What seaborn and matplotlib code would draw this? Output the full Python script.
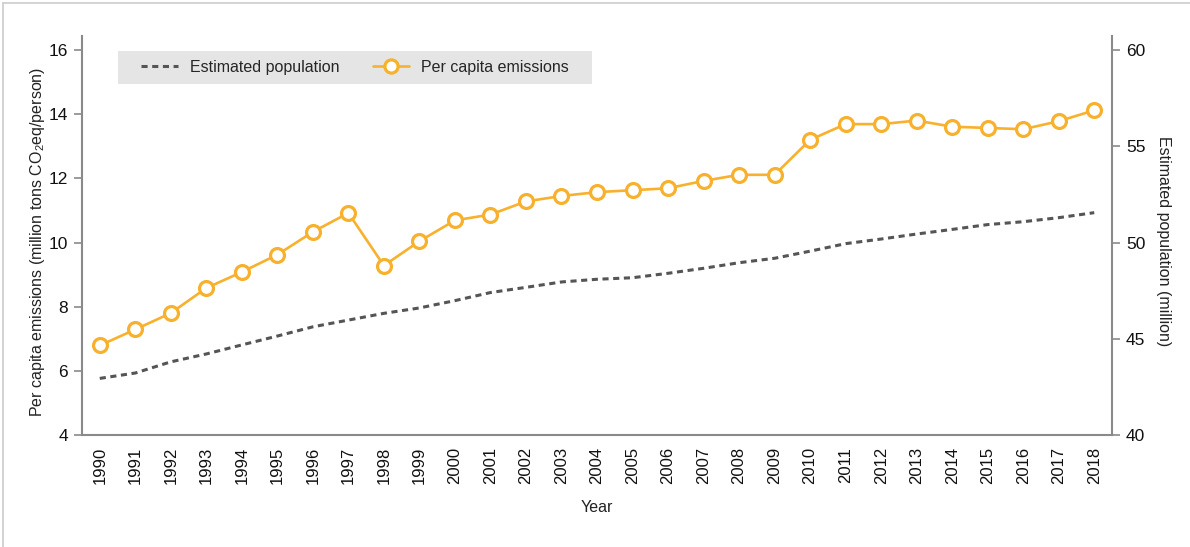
import numpy as np
import pandas as pd
import matplotlib
matplotlib.use("Agg")
import matplotlib.pyplot as plt
from matplotlib.patches import Rectangle
from matplotlib.lines import Line2D
import seaborn as sns

# ---- data ----
years = list(range(1990, 2019))
per_capita = [6.79, 7.29, 7.80, 8.58, 9.08, 9.62, 10.33, 10.92, 9.28, 10.04,
              10.69, 10.87, 11.28, 11.45, 11.57, 11.63, 11.69, 11.92, 12.11, 12.11,
              13.20, 13.69, 13.69, 13.80, 13.61, 13.57, 13.53, 13.78, 14.12]
population = [42.94, 43.22, 43.80, 44.21, 44.68, 45.14, 45.62, 45.97, 46.32, 46.60,
              46.98, 47.40, 47.67, 47.95, 48.09, 48.17, 48.40, 48.66, 48.95, 49.18,
              49.55, 49.94, 50.18, 50.44, 50.68, 50.93, 51.08, 51.29, 51.55]
label_pop = "Estimated population"
label_pc = "Per capita emissions"

df = pd.DataFrame({"idx": np.arange(len(years)), "year": years,
                   "per_capita": per_capita, "population": population})

sns.set_theme(style="white")
plt.rcParams["font.family"] = ["Liberation Sans", "DejaVu Sans"]

W, H = 1190, 547
fig = plt.figure(figsize=(W / 100, H / 100), dpi=100)
ax_l, ax_r, ax_t, ax_b = 82, 1112, 36, 435
ax = fig.add_axes([ax_l / W, 1 - ax_b / H, (ax_r - ax_l) / W, (ax_b - ax_t) / H])
ax2 = ax.twinx()

orange = "#f8b12c"
gray_line = "#555555"
spine_c = "#8a8a8a"

sns.lineplot(data=df, x="idx", y="per_capita", ax=ax, color=orange, linewidth=1.9,
             marker="o", markersize=10, markerfacecolor="white",
             markeredgecolor=orange, markeredgewidth=2.3, label=label_pc, legend=False)
sns.lineplot(data=df, x="idx", y="population", ax=ax2, color=gray_line, linewidth=2.2,
             linestyle=(0, (2, 1.5)), label=label_pop, legend=False)

# axes limits
px_per_unit_l = (ax_b - 50) / 12.0
ax.set_ylim(4, 16 + (50 - ax_t) / px_per_unit_l)
px_per_unit_r = (ax_b - 50) / 20.0
ax2.set_ylim(40, 60 + (50 - ax_t) / px_per_unit_r)
ax.set_xlim(-0.5, len(years) - 0.5)

ax.set_yticks(np.arange(4, 17, 2))
ax2.set_yticks(np.arange(40, 61, 5))

# x ticks: marks at band edges, labels at centres
ax.set_xticks(np.arange(-0.5, len(years), 1.0))
ax.set_xticklabels([])
ax.set_xticks(np.arange(len(years)), minor=True)
ax.set_xticklabels([str(y) for y in years], minor=True, rotation=90)
ax.tick_params(axis="x", which="major", length=7, width=1.2, color=spine_c, direction="out")
ax.tick_params(axis="x", which="minor", length=0, pad=8.5, labelsize=12, labelcolor="#111111")
ax.tick_params(axis="y", which="major", length=6, width=1.2, color=spine_c, direction="out",
               pad=4, labelsize=12.5, labelcolor="#111111", left=True)
ax2.tick_params(axis="y", which="major", length=6, width=1.2, color=spine_c, direction="out",
                pad=4, labelsize=12.5, labelcolor="#111111", right=True)

for a in (ax, ax2):
    for s in a.spines.values():
        s.set_visible(False)
    a.grid(False)
ax.spines["left"].set_visible(True)
ax.spines["bottom"].set_visible(True)
ax2.spines["right"].set_visible(True)
for s in (ax.spines["left"], ax.spines["bottom"], ax2.spines["right"]):
    s.set_color(spine_c)
    s.set_linewidth(1.5)

# labels
ax.set_xlabel("Year", fontsize=11.5, color="#222222", va="center")
ax.xaxis.set_label_coords(0.5, -(508 - ax_b) / (ax_b - ax_t))
ax.set_ylabel("Per capita emissions (million tons CO$\\mathregular{_2}$eq/person)",
              fontsize=11.5, color="#222222", rotation=90, va="center", ha="center")
ax.yaxis.set_label_coords((38 - ax_l) / (ax_r - ax_l), (ax_b - 242) / (ax_b - ax_t))
ax2.set_ylabel("Estimated population (million)", fontsize=11.5, color="#222222",
               rotation=270, va="center", ha="center")
ax2.yaxis.set_label_coords((1163 - ax_l) / (ax_r - ax_l), (ax_b - 241) / (ax_b - ax_t))

# legend box
aw, ah = ax_r - ax_l, ax_b - ax_t
box = Rectangle(((118 - ax_l) / aw, (ax_b - 84) / ah), 474 / aw, 33 / ah,
                transform=ax.transAxes, facecolor="#e5e5e5", edgecolor="none",
                zorder=5, clip_on=False)
ax2.add_patch(box)
h_pop = Line2D([], [], color=gray_line, linewidth=2.2, linestyle=(0, (2, 1.5)))
h_pc = Line2D([], [], color=orange, linewidth=1.9, marker="o", markersize=9.5,
              markerfacecolor="white", markeredgecolor=orange, markeredgewidth=2.3)
leg = ax2.legend([h_pop, h_pc], [label_pop, label_pc], ncol=2, loc="center left",
                 bbox_to_anchor=((141 - ax_l) / aw, (ax_b - 67.5) / ah),
                 frameon=False, borderpad=0, borderaxespad=0, fontsize=11.5,
                 handlelength=2.3, handletextpad=0.75, columnspacing=2.1)
leg.set_zorder(6)

# outer border (top and left visible)
fig.add_artist(Line2D([3 / W, 1], [1 - 3 / H, 1 - 3 / H], color="#cccccc", linewidth=1.2,
                      transform=fig.transFigure))
fig.add_artist(Line2D([3 / W, 3 / W], [0, 1 - 3 / H], color="#cccccc", linewidth=1.2,
                      transform=fig.transFigure))

fig.savefig("out.png", dpi=100)
